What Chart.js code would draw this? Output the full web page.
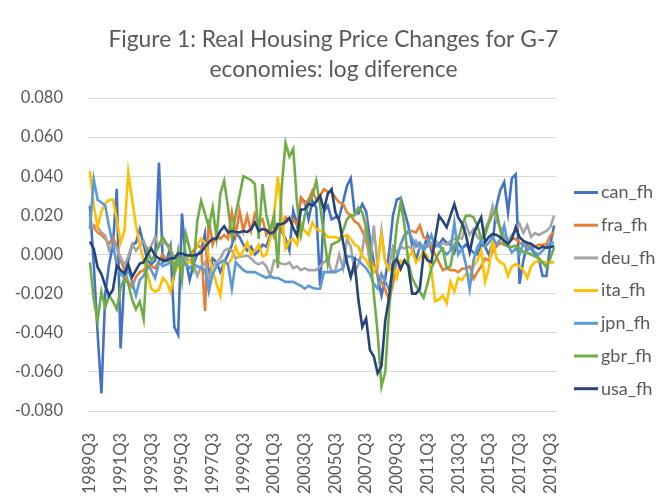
<!DOCTYPE html>
<html>
<head>
<meta charset="utf-8">
<script src="https://cdn.jsdelivr.net/npm/chart.js@4.4.1/dist/chart.umd.min.js"></script>
<style>
html,body{margin:0;padding:0;background:#ffffff;}
#wrap{width:667px;height:498px;}
</style>
</head>
<body>
<div id="wrap"><canvas id="c" width="667" height="498"></canvas></div>
<script>
// ---- data ----
const titleLines = ["Figure 1: Real Housing Price Changes for G-7", "economies: log diference"];
const firstYear = 1989, firstQuarter = 3, nQuarters = 122;
const categories = [];
for (let k = 0; k < nQuarters; k++) {
  const q = firstQuarter - 1 + k;
  categories.push((firstYear + Math.floor(q / 4)) + "Q" + (q % 4 + 1));
}
const labelEvery = 8;
const yTickValues = [-0.08, -0.06, -0.04, -0.02, 0, 0.02, 0.04, 0.06, 0.08];

const can_fh = [0.025,-0.005,-0.040,-0.071,-0.020,-0.005,0.005,0.0336,-0.048,-0.011,
 -0.003,0.005,0.006,0.013,0.005,-0.003,-0.005,-0.003,0.047,-0.004,
 -0.003,0.004,-0.037,-0.041,0.021,-0.003,-0.013,-0.005,0.000,0.002,
 0.0107,-0.013,-0.002,-0.004,-0.009,-0.004,0.000,0.005,0.011,0.009,
 0.005,0.002,0.004,0.000,0.002,0.005,0.004,0.010,0.0148,0.0156,
 0.012,0.008,0.002,0.0224,0.015,0.029,0.027,0.018,0.0275,0.024,
 -0.016,0.022,0.025,0.018,0.019,0.019,0.027,0.035,0.039,0.0215,
 0.021,0.0258,0.022,0.008,-0.004,-0.011,-0.021,-0.012,0.001,0.020,
 0.028,0.029,0.022,0.0148,0.0046,-0.003,0.004,0.003,0.0097,0.002,
 0.007,0.005,0.008,0.006,0.005,0.001,0.006,0.003,0.005,0.003,
 0.001,0.000,0.005,0.004,0.000,0.006,0.025,0.033,0.037,0.0215,
 0.039,0.041,-0.015,-0.003,0.005,0.003,0.000,-0.002,-0.011,-0.011,
 0.005,0.0148];
const fra_fh = [0.0156,0.014,0.0113,0.010,0.008,0.0054,0.0088,0.004,-0.003,-0.008,
 -0.014,-0.0166,-0.0115,-0.009,-0.0081,-0.0056,-0.006,-0.007,-0.003,0.000,
 -0.003,-0.004,-0.005,-0.002,-0.003,-0.002,0.000,0.002,0.0046,0.0037,
 -0.029,0.018,0.005,0.010,0.008,0.010,0.008,0.0215,0.010,0.0224,
 0.012,0.0198,0.012,0.0207,0.016,0.018,0.010,0.014,0.009,0.015,
 0.012,0.019,0.018,0.018,0.015,0.029,0.026,0.028,0.0326,0.028,
 0.030,0.0334,0.032,0.032,0.029,0.0266,0.0258,0.0215,0.020,0.017,
 0.0156,0.012,0.007,-0.002,-0.0047,-0.010,-0.014,-0.018,-0.0234,-0.015,
 -0.002,0.005,0.0097,0.0113,0.012,0.0113,0.0148,0.0088,0.008,0.004,
 0.000,-0.004,-0.008,-0.007,-0.008,-0.008,-0.009,-0.0073,-0.007,-0.006,
 -0.0124,-0.009,-0.006,-0.002,-0.003,0.002,0.004,0.006,0.005,0.006,
 0.008,0.008,0.006,0.005,0.004,0.005,0.004,0.005,0.005,0.0054,
 0.0097,0.0113];
const deu_fh = [0.0156,0.015,0.014,0.0113,0.0097,0.002,0.0054,0.003,-0.0014,-0.0056,
 -0.001,0.0054,0.002,0.0046,0.007,0.002,0.0046,0.0088,0.004,0.007,
 0.005,0.002,-0.001,-0.003,-0.007,-0.002,-0.003,-0.005,-0.011,-0.006,
 -0.004,-0.012,-0.006,-0.004,-0.002,0.002,0.003,0.002,-0.002,-0.001,
 -0.001,-0.0005,-0.002,-0.004,-0.005,-0.004,-0.006,-0.011,-0.003,-0.004,
 -0.0047,-0.005,-0.004,-0.007,-0.006,-0.008,-0.007,-0.008,-0.008,-0.008,
 -0.006,-0.004,-0.002,-0.009,-0.008,0.000,-0.007,0.008,0.004,-0.009,
 -0.005,0.002,0.0156,-0.007,0.0148,-0.006,0.0122,-0.004,-0.0065,0.004,
 0.001,0.004,0.003,0.004,0.003,0.007,0.003,0.005,0.004,0.006,
 0.007,0.004,0.006,0.005,0.007,0.008,0.0088,0.008,0.0156,0.010,
 0.013,0.009,0.007,0.013,0.0173,0.025,0.017,0.014,0.009,0.007,
 0.010,0.012,0.0156,0.011,0.015,0.009,0.011,0.010,0.011,0.012,
 0.014,0.0198];
const ita_fh = [0.0427,0.025,0.014,0.022,0.026,0.028,0.028,0.018,0.006,0.012,
 0.042,0.028,0.015,0.005,-0.003,-0.010,-0.0175,-0.019,-0.018,-0.012,
 -0.014,-0.019,-0.010,-0.006,-0.006,-0.004,-0.004,0.000,0.005,0.008,
 0.006,-0.001,-0.008,-0.015,-0.021,-0.004,-0.005,-0.002,0.004,-0.001,
 0.002,0.006,0.000,0.002,0.005,-0.001,0.000,0.008,0.020,0.040,
 0.020,0.003,0.007,0.008,0.005,0.0156,0.012,0.010,0.0164,0.013,
 0.012,0.0113,0.009,0.0088,0.009,0.008,0.009,0.010,0.008,0.005,
 0.004,-0.001,-0.003,-0.007,-0.009,-0.004,0.0097,-0.004,-0.008,-0.005,
 -0.012,-0.003,-0.004,-0.002,0.002,-0.004,-0.002,0.002,-0.001,-0.008,
 -0.024,-0.023,-0.021,-0.025,-0.014,-0.019,-0.012,-0.013,-0.010,-0.011,
 -0.006,-0.003,0.002,-0.014,-0.007,0.008,-0.002,-0.004,-0.005,-0.011,
 -0.006,-0.005,-0.006,-0.008,-0.012,-0.006,-0.004,-0.003,-0.004,-0.004,
 -0.004,-0.004];
const jpn_fh = [0.013,0.0385,0.028,0.0266,0.025,0.014,0.005,-0.005,-0.010,-0.012,
 -0.008,-0.014,-0.021,-0.013,-0.011,-0.006,-0.008,-0.012,-0.004,-0.006,
 -0.005,-0.004,-0.007,-0.005,-0.002,-0.005,-0.007,-0.005,-0.006,-0.007,
 -0.008,-0.019,-0.010,-0.006,-0.004,-0.003,-0.005,-0.0175,-0.004,-0.006,
 -0.008,-0.009,-0.009,-0.009,-0.010,-0.011,-0.012,-0.011,-0.012,-0.012,
 -0.013,-0.014,-0.014,-0.014,-0.015,-0.016,-0.0175,-0.016,-0.017,-0.0175,
 -0.0175,-0.009,-0.009,-0.009,-0.009,-0.008,-0.007,-0.001,-0.001,-0.002,
 -0.003,-0.005,-0.007,-0.010,-0.015,-0.0175,-0.010,-0.014,-0.018,-0.008,
 -0.002,0.005,0.010,0.012,0.008,0.004,0.006,0.002,0.005,0.010,
 0.004,0.005,0.002,0.000,0.002,0.0164,0.000,0.003,-0.005,-0.0175,
 -0.003,0.004,0.007,0.004,0.006,0.009,0.005,0.008,0.0148,0.005,
 0.001,0.003,0.000,0.006,0.002,0.004,0.001,0.000,0.002,0.004,
 0.006,0.006];
const gbr_fh = [-0.004,-0.023,-0.034,-0.019,-0.027,-0.021,-0.024,-0.028,-0.017,-0.012,
 -0.015,-0.023,-0.028,-0.024,-0.033,0.002,-0.003,0.000,0.005,0.0088,
 0.0054,0.004,-0.0098,0.002,-0.013,0.0105,0.003,-0.0065,0.0173,0.0275,
 0.0207,0.0139,0.024,0.0088,0.031,0.0377,0.024,0.0088,0.0207,0.030,
 0.040,0.039,0.038,0.036,0.008,0.036,0.020,0.012,0.020,-0.007,
 0.035,0.057,0.050,0.054,0.026,0.010,0.020,0.026,0.030,0.0377,
 0.025,0.010,-0.005,0.005,0.006,0.007,0.0122,0.018,0.020,0.020,
 0.024,0.0215,0.0139,0.002,-0.020,-0.040,-0.0675,-0.060,-0.028,-0.005,
 0.0148,0.0266,0.015,-0.004,-0.012,-0.016,-0.019,-0.022,-0.015,-0.007,
 -0.003,0.001,0.003,-0.007,-0.006,0.005,0.008,0.0148,0.0198,0.020,
 0.019,0.0148,0.008,0.010,0.016,0.0207,0.0224,0.012,0.005,0.004,
 0.004,0.0045,0.003,0.0012,0.001,0.000,-0.001,-0.002,-0.004,-0.0065,
 -0.002,0.0037];
const usa_fh = [0.0066,0.003,-0.0065,-0.010,-0.016,-0.021,-0.018,-0.0056,-0.008,-0.0098,
 -0.005,-0.0115,-0.008,-0.0046,-0.004,0.000,0.003,-0.0005,-0.002,-0.003,
 -0.003,-0.002,-0.002,0.0005,0.0005,-0.0003,-0.0005,-0.0005,0.000,0.001,
 0.004,0.0062,0.008,0.008,0.012,0.0144,0.0113,0.012,0.0115,0.0113,
 0.012,0.0115,0.013,0.0164,0.012,0.013,0.0125,0.0107,0.0115,0.0153,
 0.0155,0.0165,0.0187,0.0135,0.0097,0.023,0.023,0.026,0.025,0.027,
 0.030,0.023,0.031,0.0334,0.0215,0.0173,0.0063,-0.0039,-0.0115,-0.0039,
 -0.0234,-0.037,-0.0327,-0.0489,-0.052,-0.0607,-0.057,-0.0336,-0.0217,-0.0047,
 -0.0022,-0.0073,-0.003,-0.006,-0.020,-0.020,-0.0175,0.0004,-0.003,-0.004,
 0.008,0.0198,0.017,0.0139,0.020,0.0258,0.019,0.016,0.010,0.0012,
 0.0105,0.015,0.019,0.0063,0.009,0.0105,0.010,0.0088,0.007,0.0054,
 0.008,0.0139,0.0088,0.007,0.006,0.0055,0.004,0.0029,0.004,0.0035,
 0.0037,0.0045];

const seriesNames = ["can_fh", "fra_fh", "deu_fh", "ita_fh", "jpn_fh", "gbr_fh", "usa_fh"];
const seriesValues = [can_fh, fra_fh, deu_fh, ita_fh, jpn_fh, gbr_fh, usa_fh];
const seriesColors = ["#4472C4", "#ED7D31", "#A5A5A5", "#FFC000", "#5B9BD5", "#70AD47", "#264478"];

// ---- styling ----
const FONT = "Lato, 'Open Sans', sans-serif";
const TEXT = "#595959";

const sideLegend = {
  id: 'sideLegend',
  afterDraw(chart) {
    const ctx = chart.ctx;
    const a = chart.chartArea;
    ctx.save();
    ctx.font = "18px " + FONT;
    ctx.textBaseline = "middle";
    ctx.textAlign = "left";
    seriesNames.forEach((name, k) => {
      const y = 192.5 + k * 32.7;
      const x0 = a.right + 18;
      ctx.strokeStyle = seriesColors[k];
      ctx.lineWidth = 3;
      ctx.beginPath();
      ctx.moveTo(x0, y);
      ctx.lineTo(x0 + 24, y);
      ctx.stroke();
      ctx.fillStyle = TEXT;
      ctx.fillText(name, x0 + 27, y);
    });
    ctx.restore();
  }
};

new Chart(document.getElementById('c'), {
  type: 'line',
  data: {
    labels: categories,
    datasets: seriesNames.map((n, k) => ({
      label: n,
      data: seriesValues[k],
      borderColor: seriesColors[k],
      backgroundColor: seriesColors[k],
      borderWidth: 2.6,
      pointRadius: 0,
      tension: 0,
      fill: false,
      order: seriesNames.length - k
    }))
  },
  options: {
    responsive: false,
    animation: false,
    devicePixelRatio: 1,
    layout: { padding: 0 },
    plugins: {
      legend: { display: false },
      tooltip: { enabled: false },
      title: {
        display: true,
        text: titleLines,
        color: TEXT,
        font: { family: FONT, size: 22.8, weight: 'normal', lineHeight: 1.316 },
        padding: { top: 25, bottom: 13 }
      }
    },
    scales: {
      x: {
        type: 'category',
        offset: true,
        grid: { display: false },
        border: { display: false },
        afterFit: s => { s.height = 87; },
        ticks: {
          autoSkip: false,
          minRotation: 90,
          maxRotation: 90,
          padding: 14,
          color: TEXT,
          font: { family: FONT, size: 16.5 },
          callback: (v, i) => (i % labelEvery === 0 ? categories[i] : '')
        }
      },
      y: {
        min: yTickValues[0],
        max: yTickValues[yTickValues.length - 1],
        afterBuildTicks: s => { s.ticks = yTickValues.map(v => ({ value: v })); },
        afterFit: s => { s.width = 88; },
        border: { display: false },
        grid: { color: '#D9D9D9', lineWidth: 1, drawTicks: false },
        ticks: {
          padding: 25,
          color: TEXT,
          font: { family: FONT, size: 16.5 },
          callback: v => Number(v).toFixed(3)
        }
      },
      legendSpace: {
        type: 'linear',
        position: 'right',
        display: true,
        grid: { display: false },
        border: { display: false },
        ticks: { display: false },
        afterFit: s => { s.width = 111; }
      }
    }
  },
  plugins: [sideLegend]
});
</script>
</body>
</html>
